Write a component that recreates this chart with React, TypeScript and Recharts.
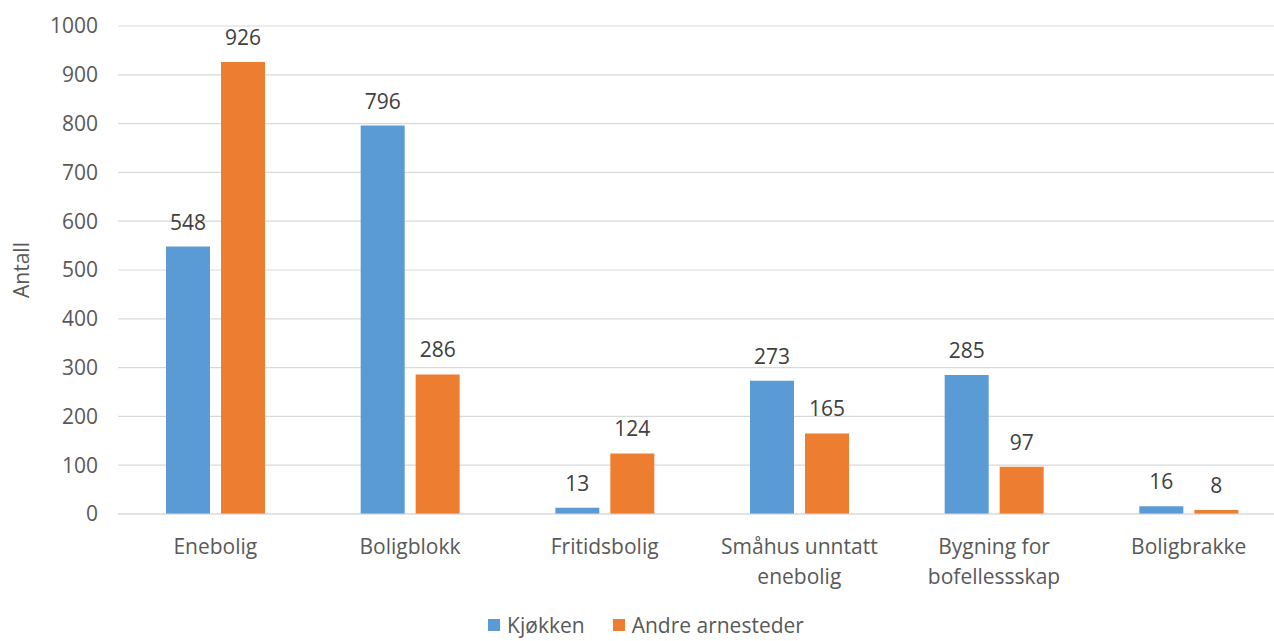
import React from "react";
import {
  Bar,
  BarChart,
  CartesianGrid,
  LabelList,
  Legend,
  XAxis,
  YAxis,
} from "recharts";

// Values.
const CATEGORIES = [
  "Enebolig",
  "Boligblokk",
  "Fritidsbolig",
  "Småhus unntatt\nenebolig",
  "Bygning for\nbofellessskap",
  "Boligbrakke",
];
const KJOKKEN = [548, 796, 13, 273, 285, 16];
const ANDRE = [926, 286, 124, 165, 97, 8];
const Y_TICKS = [0, 100, 200, 300, 400, 500, 600, 700, 800, 900, 1000];
const SERIES_ORDER = ["Kjøkken", "Andre arnesteder"];

const BLUE = "#5b9bd5";
const ORANGE = "#ed7d31";
const GRID = "#d9d9d9";
const TICK = "#595959";
const LABEL = "#404040";
const FONT = "'Open Sans', sans-serif";

const data = CATEGORIES.map((name, i) => ({
  name,
  kjokken: KJOKKEN[i],
  andre: ANDRE[i],
}));

function CategoryTick({ x, y, payload }: any) {
  const lines = String(payload.value).split("\n");
  return (
    <text
      x={x}
      y={y}
      textAnchor="middle"
      fill={TICK}
      fontSize={21}
      fontFamily={FONT}
    >
      {lines.map((line, i) => (
        <tspan key={i} x={x} dy={i === 0 ? 38 : 30}>
          {line}
        </tspan>
      ))}
    </text>
  );
}

function LegendBox({ payload }: any) {
  const items = [...(payload || [])].sort(
    (a: any, b: any) =>
      SERIES_ORDER.indexOf(a.value) - SERIES_ORDER.indexOf(b.value)
  );
  return (
    <div
      style={{
        display: "flex",
        justifyContent: "center",
        alignItems: "center",
        gap: 28,
        paddingLeft: 6,
        paddingTop: 8,
        fontFamily: FONT,
        fontSize: 21,
        lineHeight: "26px",
        color: TICK,
      }}
    >
      {items.map((p: any) => (
        <div key={p.value} style={{ display: "flex", alignItems: "center" }}>
          <span
            style={{
              display: "inline-block",
              width: 12,
              height: 12,
              background: p.color,
              marginRight: 7,
            }}
          />
          <span>{p.value}</span>
        </div>
      ))}
    </div>
  );
}

export default function App() {
  return (
    <div
      style={{
        position: "fixed",
        left: 0,
        top: 0,
        width: 1274,
        height: 641,
        overflow: "hidden",
        background: "#fff",
      }}
    >
      <BarChart
        width={1290}
        height={641}
        data={data}
        margin={{ top: 26, right: 4, bottom: 0, left: 0 }}
        barSize={44}
        barGap={11}
      >
        <CartesianGrid vertical={false} stroke={GRID} strokeWidth={1.2} />
        <XAxis
          dataKey="name"
          height={90}
          tick={<CategoryTick />}
          tickLine={false}
          tickSize={0}
          axisLine={{ stroke: GRID, strokeWidth: 1.2 }}
          interval={0}
        />
        <YAxis
          width={118}
          domain={[0, 1000]}
          ticks={Y_TICKS}
          tickLine={false}
          axisLine={false}
          tickSize={0}
          tickMargin={20}
          tick={{ fontSize: 21, fill: TICK, fontFamily: FONT }}
          label={{
            value: "Antall",
            angle: -90,
            position: "center",
            dx: -37,
            fill: TICK,
            fontSize: 21,
            fontFamily: FONT,
          }}
        />
        <Legend verticalAlign="bottom" height={37} content={<LegendBox />} />
        <Bar
          dataKey="kjokken"
          name="Kjøkken"
          fill={BLUE}
          isAnimationActive={false}
        >
          <LabelList
            dataKey="kjokken"
            position="top"
            offset={17}
            fill={LABEL}
            fontSize={21}
            fontFamily={FONT}
          />
        </Bar>
        <Bar
          dataKey="andre"
          name="Andre arnesteder"
          fill={ORANGE}
          isAnimationActive={false}
        >
          <LabelList
            dataKey="andre"
            position="top"
            offset={17}
            fill={LABEL}
            fontSize={21}
            fontFamily={FONT}
          />
        </Bar>
      </BarChart>
    </div>
  );
}
